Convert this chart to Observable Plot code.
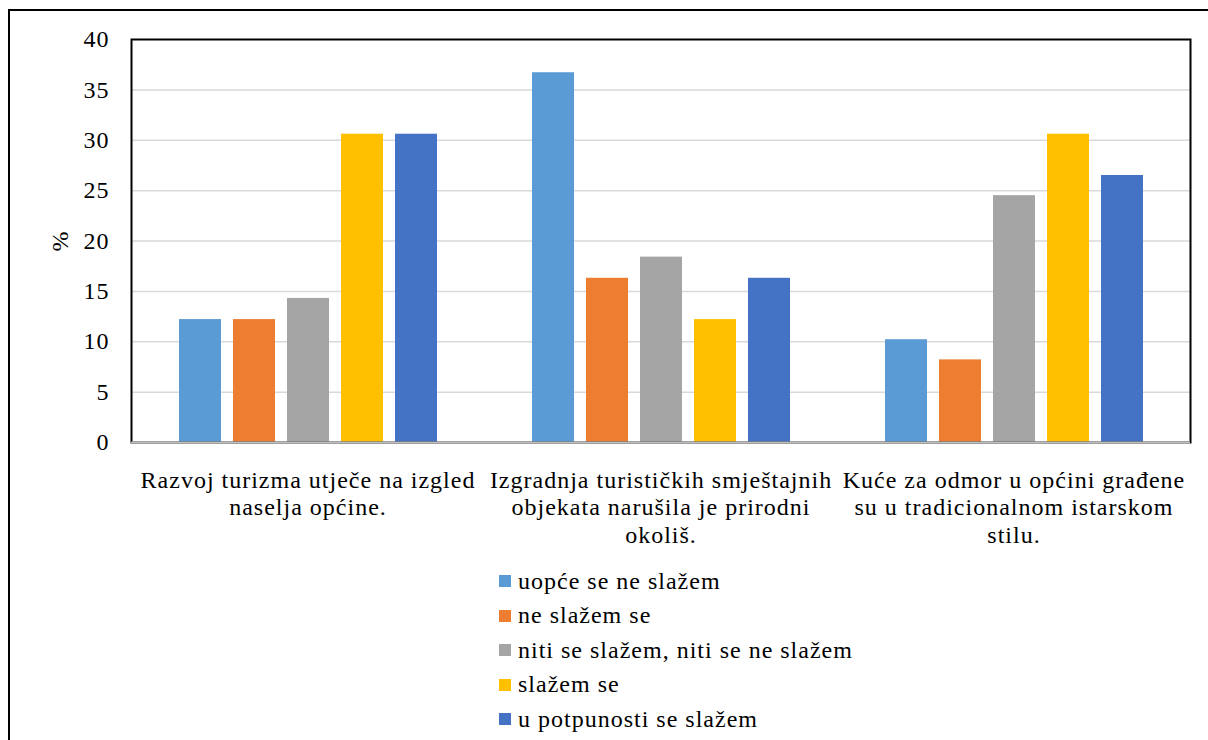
<!DOCTYPE html>
<html>
<head>
<meta charset="utf-8">
<script src="https://cdn.jsdelivr.net/npm/d3@7"></script>
<script src="https://cdn.jsdelivr.net/npm/@observablehq/plot@0.6"></script>
<style>
  body { margin: 0; background: #fff; }
  #wrap { position: relative; width: 1208px; height: 740px; overflow: hidden; font-family: "Liberation Serif", "Times New Roman", serif; }
  #outer { position: absolute; left: 8px; top: 9px; width: 1220px; height: 760px; border-top: 2px solid #000; border-left: 2px solid #000; box-sizing: border-box; }
  #chart { position: absolute; left: 0; top: 0; }
  #legend { position: absolute; left: 499px; top: 564px; font-size: 24px; letter-spacing: 1px; color: #000; }
  .item { display: flex; align-items: center; height: 34.5px; }
  .sw { width: 12px; height: 12px; margin-right: 7px; }
</style>
</head>
<body>
<div id="wrap">
  <div id="outer"></div>
  <div id="chart"></div>
  <div id="legend"></div>
</div>
<script>
const categories = [
  "Razvoj turizma utječe na izgled naselja općine.",
  "Izgradnja turističkih smještajnih objekata narušila je prirodni okoliš.",
  "Kuće za odmor u općini građene su u tradicionalnom istarskom stilu."
];
const categoryLabels = [
  "Razvoj turizma utječe na izgled\nnaselja općine.",
  "Izgradnja turističkih smještajnih\nobjekata narušila je prirodni\nokoliš.",
  "Kuće za odmor u općini građene\nsu u tradicionalnom istarskom\nstilu."
];
const series = [
  "uopće se ne slažem",
  "ne slažem se",
  "niti se slažem, niti se ne slažem",
  "slažem se",
  "u potpunosti se slažem"
];
const colors = ["#5B9BD5", "#ED7D31", "#A5A5A5", "#FFC000", "#4472C4"];
const values = [
  [12.2, 12.2, 14.3, 30.6, 30.6],
  [36.7, 16.3, 18.4, 12.2, 16.3],
  [10.2, 8.2, 24.5, 30.6, 26.5]
];
const yTicks = [0, 5, 10, 15, 20, 25, 30, 35, 40];

const data = [];
categories.forEach((c, i) => series.forEach((s, j) => data.push({category: c, series: s, value: values[i][j]})));
const labelOf = new Map(categories.map((c, i) => [c, categoryLabels[i]]));

const chart = Plot.plot({
  width: 1208,
  height: 560,
  marginLeft: 131,
  marginRight: 18,
  marginTop: 39,
  marginBottom: 118,
  style: {fontFamily: "'Liberation Serif', 'Times New Roman', serif", fontSize: "24px", letterSpacing: "1px", color: "#000", background: "transparent"},
  fx: {domain: categories, padding: 0, label: null},
  x: {domain: series, paddingInner: 0.227, paddingOuter: 0.864, axis: null},
  y: {domain: [0, 40], ticks: yTicks, label: null},
  color: {domain: series, range: colors},
  marks: [
    Plot.gridY(yTicks.filter(d => d > 0 && d < 40), {stroke: "#d9d9d9", strokeOpacity: 1, strokeWidth: 1.5}),
    Plot.barY(data, {fx: "category", x: "series", y: "value", fill: "series"}),
    Plot.frame({facet: "super", stroke: "#000", strokeWidth: 2}),
    Plot.ruleY([0], {stroke: "#bfbfbf", strokeWidth: 2}),
    Plot.axisY(yTicks, {tickSize: 0, tickPadding: 22, fontSize: 24}),
    Plot.text(["%"], {frameAnchor: "left", textAnchor: "middle", dx: -71, rotate: -90, fontSize: 24, facet: "super"}),
    Plot.axisFx({anchor: "bottom", tickSize: 0, tickPadding: 26, fontSize: 24, lineHeight: 1.14, tickFormat: d => labelOf.get(d), label: null})
  ]
});
document.getElementById("chart").appendChild(chart);

const legend = d3.select("#legend");
series.forEach((s, i) => {
  const item = legend.append("div").attr("class", "item");
  item.append("div").attr("class", "sw").style("background", colors[i]);
  item.append("span").text(s);
});
</script>
</body>
</html>
